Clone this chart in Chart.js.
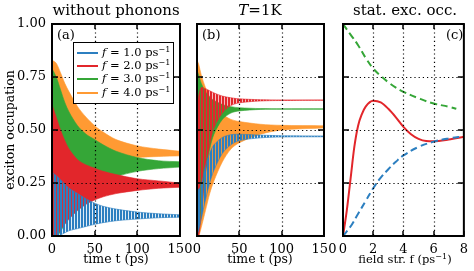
<!DOCTYPE html>
<html>
<head>
<meta charset="utf-8">
<script src="https://cdn.jsdelivr.net/npm/chart.js@4.4.0/dist/chart.umd.min.js"></script>
<style>
  body { margin:0; background:#fff; width:474px; height:271px; overflow:hidden; position:relative;
         font-family:"DejaVu Serif", serif; color:#000; }
  canvas { position:absolute; top:0; }
  .lbl { position:absolute; white-space:nowrap; line-height:1; }
  .ttl { font-size:15px; transform:translateX(-50%); top:3px; }
  .xl { font-size:12.5px; transform:translateX(-50%); top:253px; }
  i { font-style:italic; }
  sup { font-size:0.7em; vertical-align:0.45em; line-height:0; }
  #legend { position:absolute; left:73px; top:42px; width:99px; height:60px; border:1.3px solid #000;
            background:#fff; font-size:11.5px; }
  .row { position:absolute; left:3px; height:12px; line-height:12px; white-space:nowrap; }
  .row span.s { display:inline-block; width:21px; height:2px; vertical-align:middle; margin-right:4px; }
</style>
</head>
<body>
<canvas id="ca" width="200" height="271" style="left:0"></canvas>
<canvas id="cb" width="164" height="271" style="left:180px"></canvas>
<canvas id="cc" width="148" height="271" style="left:326px"></canvas>

<div class="lbl ttl" style="left:116px">without phonons</div>
<div class="lbl ttl" style="left:260px"><i>T</i>=1K</div>
<div class="lbl ttl" style="left:405px">stat. exc. occ.</div>
<div class="lbl xl" style="left:116px">time t (ps)</div>
<div class="lbl xl" style="left:260px">time t (ps)</div>
<div class="lbl xl" style="left:405px;font-size:11.5px;top:254px">field str. f (ps<sup>−1</sup>)</div>
<div class="lbl" style="left:10px;top:130px;font-size:12.5px;transform:translate(-50%,-50%) rotate(-90deg)">exciton occupation</div>
<div class="lbl" style="left:57px;top:28px;font-size:13px">(a)</div>
<div class="lbl" style="left:202px;top:28px;font-size:13px">(b)</div>
<div class="lbl" style="left:446px;top:28px;font-size:13px">(c)</div>

<div id="legend"></div>

<script>
const blue = '#2c7fc0', red = '#e2262b', green = '#35a637', orange = '#ff9a33';

const fields = ['1.0', '2.0', '3.0', '4.0'];

// panel (a): without phonons, envelopes of the oscillating occupation
const tA = [0, 5, 10, 15, 20, 30, 40, 50, 60, 75, 100, 125, 150];
const aBlueUp  = [0.30, 0.285, 0.265, 0.245, 0.225, 0.20, 0.175, 0.155, 0.14, 0.127, 0.113, 0.105, 0.10];
const aBlueLo  = [0.00, 0.00, 0.005, 0.015, 0.025, 0.035, 0.045, 0.055, 0.063, 0.072, 0.08, 0.086, 0.089];
const aRedUp   = [0.62, 0.56, 0.50, 0.45, 0.41, 0.36, 0.335, 0.32, 0.305, 0.29, 0.27, 0.26, 0.25];
const aRedLo   = [0.00, 0.00, 0.03, 0.055, 0.08, 0.12, 0.15, 0.17, 0.185, 0.20, 0.215, 0.225, 0.23];
const aGreenUp = [0.79, 0.75, 0.69, 0.63, 0.585, 0.52, 0.48, 0.455, 0.43, 0.40, 0.37, 0.355, 0.35];
const aGreenLo = [0.00, 0.00, 0.02, 0.06, 0.10, 0.16, 0.20, 0.23, 0.255, 0.28, 0.305, 0.318, 0.325];
const aOrangeUp = [0.83, 0.815, 0.77, 0.72, 0.68, 0.61, 0.56, 0.52, 0.49, 0.455, 0.425, 0.41, 0.40];
const aOrangeLo = [0.00, 0.00, 0.10, 0.15, 0.20, 0.27, 0.31, 0.33, 0.345, 0.355, 0.37, 0.375, 0.378];

// panel (b): T = 1K
const tB = [0, 2, 5, 10, 15, 20, 30, 40, 50, 75, 100, 150];
const bBlueUp  = [0.22, 0.22, 0.24, 0.33, 0.39, 0.43, 0.465, 0.478, 0.48, 0.476, 0.473, 0.472];
const bBlueLo  = [0.00, 0.03, 0.08, 0.17, 0.25, 0.31, 0.39, 0.43, 0.45, 0.463, 0.467, 0.468];
const bRedUp   = [0.60, 0.66, 0.70, 0.695, 0.685, 0.675, 0.66, 0.652, 0.647, 0.643, 0.642, 0.642];
const bRedLo   = [0.00, 0.00, 0.10, 0.30, 0.43, 0.51, 0.58, 0.615, 0.628, 0.637, 0.639, 0.64];
const bGreenUp = [0.78, 0.76, 0.72, 0.68, 0.655, 0.64, 0.62, 0.61, 0.605, 0.601, 0.60, 0.60];
const bGreenLo = [0.00, 0.02, 0.12, 0.30, 0.41, 0.48, 0.55, 0.58, 0.59, 0.597, 0.598, 0.598];
const bOrangeUp = [0.83, 0.81, 0.76, 0.70, 0.655, 0.62, 0.575, 0.55, 0.54, 0.527, 0.522, 0.52];
const bOrangeLo = [0.00, 0.00, 0.04, 0.12, 0.20, 0.26, 0.35, 0.41, 0.44, 0.48, 0.50, 0.51];

// panel (c): stationary occupation vs field strength
const fRed = [0, 0.25, 0.5, 0.75, 1, 1.25, 1.5, 2, 2.5, 3, 3.5, 4, 4.5, 5, 5.5, 6, 7, 8];
const cRed = [0, 0.12, 0.27, 0.42, 0.52, 0.575, 0.61, 0.638, 0.63, 0.60, 0.56, 0.515, 0.48, 0.458, 0.448, 0.447, 0.455, 0.468];
const fBlue = [0, 0.5, 1, 1.5, 2, 2.5, 3, 3.5, 4, 5, 6, 7, 8];
const cBlue = [0, 0.045, 0.105, 0.165, 0.225, 0.275, 0.315, 0.35, 0.38, 0.42, 0.445, 0.46, 0.47];
const fGreen = [0, 0.5, 1, 1.5, 2, 2.5, 3, 3.5, 4, 5, 6, 7, 7.5];
const cGreen = [1.0, 0.95, 0.90, 0.84, 0.79, 0.755, 0.725, 0.70, 0.68, 0.65, 0.625, 0.61, 0.60];

const yTicks = [0, 0.25, 0.5, 0.75, 1];

const pts = (xs, ys) => xs.map((x, i) => ({x: x, y: ys[i]}));

// vertical stripes stand in for the fast oscillation
const stripes = (color, soft) => {
  const c = document.createElement('canvas');
  c.width = 3; c.height = 4;
  const g = c.getContext('2d');
  g.fillStyle = soft; g.fillRect(0, 0, 3, 4);
  g.fillStyle = color; g.fillRect(0, 0, 2, 4);
  return g.createPattern(c, 'repeat');
};

// a band = lower edge + upper edge filled down to it
const band = (xs, lo, up, color, order, fillStyle) => [
  { data: pts(xs, lo), borderColor: color, borderWidth: 0.6, pointRadius: 0, fill: false, order: order, tension: 0.3 },
  { data: pts(xs, up), borderColor: color, borderWidth: 0.6, pointRadius: 0, fill: '-1', order: order, tension: 0.3,
    backgroundColor: fillStyle || color }
];

const framePlugin = {
  id: 'frame',
  afterDatasetsDraw(chart) {
    const {ctx, chartArea: a, scales: {x, y}} = chart;
    const ln = (x1, y1, x2, y2) => { ctx.beginPath(); ctx.moveTo(x1, y1); ctx.lineTo(x2, y2); ctx.stroke(); };
    ctx.save();
    ctx.strokeStyle = '#000';
    ctx.lineWidth = 1.2;
    ctx.setLineDash([1.2, 3]);
    x.ticks.forEach(t => {
      if (t.value > x.min && t.value < x.max) { const p = Math.round(x.getPixelForValue(t.value)) + 0.5; ln(p, a.top, p, a.bottom); }
    });
    y.ticks.forEach(t => {
      if (t.value > y.min && t.value < y.max) { const p = Math.round(y.getPixelForValue(t.value)) + 0.5; ln(a.left, p, a.right, p); }
    });
    ctx.setLineDash([]);
    ctx.lineWidth = 1.5;
    x.ticks.forEach(t => {
      const p = Math.round(x.getPixelForValue(t.value));
      ln(p, a.bottom, p, a.bottom - 5); ln(p, a.top, p, a.top + 5);
    });
    y.ticks.forEach(t => {
      const p = Math.round(y.getPixelForValue(t.value));
      ln(a.left, p, a.left + 6, p); ln(a.right, p, a.right - 6, p);
    });
    ctx.lineWidth = 2;
    ctx.strokeRect(a.left, a.top, a.right - a.left, a.bottom - a.top);
    ctx.restore();
  }
};

Chart.defaults.font.family = '"DejaVu Serif", serif';
Chart.defaults.font.size = 13;
Chart.defaults.color = '#000';

const makeChart = (id, datasets, xMax, xStep, yWidth, padRight, yLabels) => new Chart(document.getElementById(id), {
  type: 'line',
  data: { datasets: datasets },
  options: {
    responsive: false, animation: false, devicePixelRatio: 1,
    layout: { padding: { top: 24, right: padRight, left: 0, bottom: 0 } },
    plugins: { legend: { display: false }, tooltip: { enabled: false } },
    scales: {
      x: { type: 'linear', min: 0, max: xMax,
           ticks: { stepSize: xStep, padding: 6, maxRotation: 0, font: { size: 13 } },
           grid: { display: false, drawTicks: false }, border: { display: false },
           afterFit: s => { s.height = 35; } },
      y: { min: 0, max: 1,
           afterBuildTicks: s => { s.ticks = yTicks.map(v => ({value: v})); },
           ticks: { display: yLabels, padding: 6, callback: v => v.toFixed(2), font: { size: 13 } },
           grid: { display: false, drawTicks: false }, border: { display: false },
           afterFit: s => { s.width = yWidth; } }
    }
  },
  plugins: [framePlugin]
});

makeChart('ca', [
  ...band(tA, aBlueLo, aBlueUp, blue, 1, stripes(blue, 'rgba(44,127,192,0.15)')),
  ...band(tA, aRedLo, aRedUp, red, 2),
  ...band(tA, aGreenLo, aGreenUp, green, 3),
  ...band(tA, aOrangeLo, aOrangeUp, orange, 4)
], 150, 50, 52, 20, true);

makeChart('cb', [
  ...band(tB, bBlueLo, bBlueUp, blue, 1, stripes(blue, 'rgba(44,127,192,0.15)')),
  ...band(tB, bRedLo, bRedUp, red, 2, stripes(red, 'rgba(226,38,43,0.3)')),
  ...band(tB, bGreenLo, bGreenUp, green, 3),
  ...band(tB, bOrangeLo, bOrangeUp, orange, 4)
], 150, 50, 17, 20, false);

makeChart('cc', [
  { data: pts(fGreen, cGreen), borderColor: green, borderWidth: 2, borderDash: [7, 4], pointRadius: 0, tension: 0.4, fill: false },
  { data: pts(fBlue, cBlue), borderColor: blue, borderWidth: 2, borderDash: [7, 4], pointRadius: 0, tension: 0.4, fill: false },
  { data: pts(fRed, cRed), borderColor: red, borderWidth: 2, pointRadius: 0, cubicInterpolationMode: 'monotone', fill: false }
], 8, 2, 17, 6, false);

// legend in panel (a)
const legend = document.getElementById('legend');
[blue, red, green, orange].forEach((c, i) => {
  const r = document.createElement('div');
  r.className = 'row';
  r.style.top = (3 + i * 13.2) + 'px';
  r.innerHTML = '<span class="s" style="background:' + c + '"></span><i>f</i> = ' + fields[i] + ' ps<sup>−1</sup>';
  legend.appendChild(r);
});
</script>
</body>
</html>
